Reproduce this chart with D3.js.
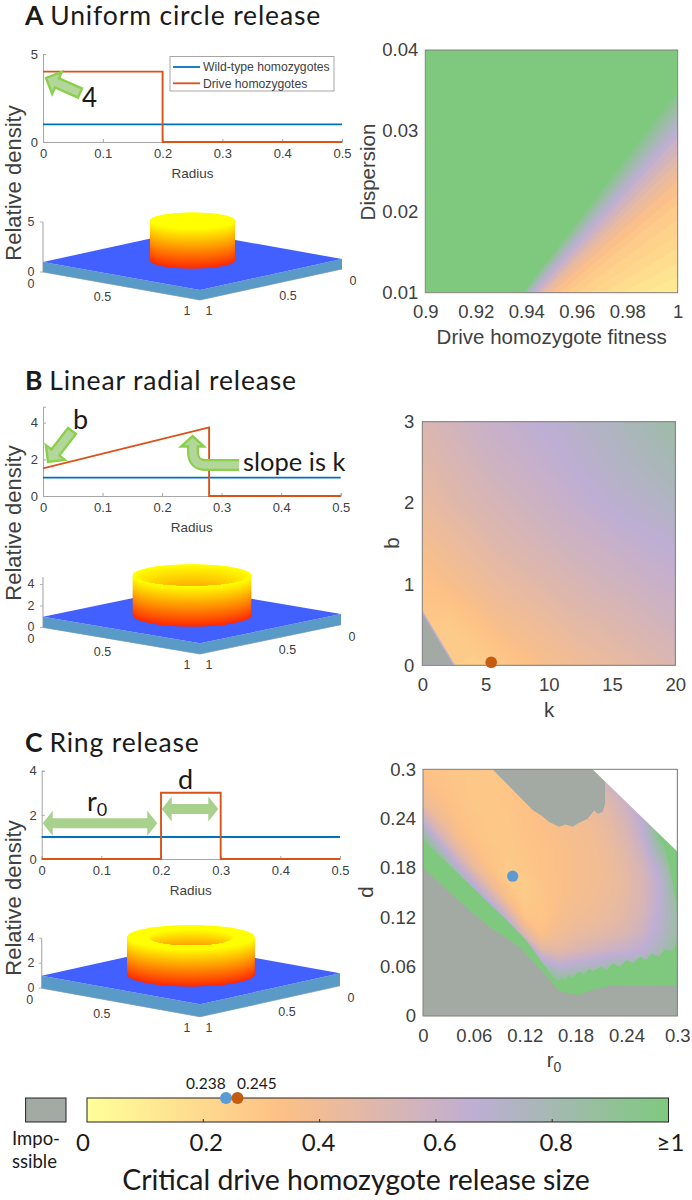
<!DOCTYPE html>
<html><head><meta charset="utf-8">
<script src="https://cdn.jsdelivr.net/npm/d3@7/dist/d3.min.js"></script>
<style>
html,body{margin:0;padding:0;background:#fff}
svg{display:block}
text{font-family:"Liberation Sans",Arial,sans-serif;fill:#404040}
.cal{font-family:Lato,"Open Sans",sans-serif;fill:#1a1a1a}
</style></head><body><svg id="c" width="692" height="1200"></svg>
<script>
// ---------- data ----------
const radiusTicks=[0,0.1,0.2,0.3,0.4,0.5];
const wildRadius=[0,0.5], wildDensity=[1,1];
const driveRadiusA=[0,0.2,0.2,0.5], driveDensityA=[4,4,0,0];
const driveRadiusB=[0,0.279,0.279,0.5], driveDensityB=[1.51,3.74,0,0];
const driveRadiusC=[0,0.2,0.2,0.3,0.3,0.5], driveDensityC=[0,0,3,3,0,0];
const seriesNames=["Wild-type homozygotes","Drive homozygotes"];

const fitnessTicks=[0.9,0.92,0.94,0.96,0.98,1];
const dispersionTicks=[0.01,0.02,0.03,0.04];
const levelsA =[.95,.9,.85,.8,.75,.7,.65,.6,.55,.5,.45,.4,.35,.3,.27,.24,.21,.18,.15,.12,.1];
const bottomFitnessA=[.9388,.939,.9395,.94,.9408,.9415,.9425,.9435,.9445,.9455,.9465,.948,.95,.953,.956,.96,.965,.971,.978,.986,.993];
const rightDispersionA=[.035,.0342,.0333,.0325,.0317,.0308,.03,.0292,.0282,.0272,.0262,.025,.0238,.0222,.021,.019,.0172,.0155,.0137,.012,.0105];

const kTicks=[0,5,10,15,20], bTicks=[0,1,2,3];
const kStep=2, bStep=0.5;
const gridB=[ // b = 0 (first row) ... 3 (last row); k = 0,2,...,20
 [.30,.28,.26,.29,.33,.37,.40,.43,.46,.49,.52],
 [.30,.28,.32,.37,.40,.43,.47,.49,.52,.55,.58],
 [.33,.36,.40,.44,.47,.50,.53,.56,.58,.61,.63],
 [.38,.42,.46,.50,.53,.56,.59,.61,.64,.66,.68],
 [.44,.48,.52,.55,.58,.61,.64,.67,.70,.72,.75],
 [.48,.52,.56,.60,.62,.65,.68,.71,.74,.77,.80],
 [.52,.56,.60,.63,.66,.68,.71,.74,.77,.81,.85]];
const grayK=[0,0,2.53], grayB=[0,.66,0];
const dotB=[5.45,.037];

const rTicks=[0,.06,.12,.18,.24,.3], dTicks=[0,.06,.12,.18,.24,.3];
const rStep=.02, dStep=.02;
const gridC=[ // d = 0 ... 0.30; r0 = 0, .02, ..., .30
 [1,1,1,1,1,1,1,1,1,1,1,1,1,1,1,1],
 [1,1,1,1,1,1,1,1,1,1,1,1,1,1,1,1],
 [1,1,1,1,1,1,1,1,.95,.95,.95,.96,.97,.98,1,1],
 [1,1,1,1,1,1,1,.85,.68,.72,.76,.8,.82,.85,.9,.95],
 [1,1,1,1,1,1,.9,.5,.47,.52,.56,.6,.63,.68,.78,.9],
 [1,1,1,1,1,1,.5,.34,.4,.44,.46,.49,.53,.6,.72,.85],
 [1,1,1,1,1,.6,.32,.31,.37,.4,.42,.45,.49,.56,.7,.85],
 [1,1,1,1,.65,.38,.28,.31,.35,.38,.4,.43,.47,.54,.68,.88],
 [1,1,1,.68,.42,.3,.28,.32,.35,.37,.39,.42,.46,.54,.68,.95],
 [1,1,.72,.45,.33,.28,.3,.33,.35,.37,.39,.42,.47,.56,.72,1],
 [1,.8,.5,.36,.31,.3,.31,.33,.35,.37,.39,.43,.49,.6,.85,1],
 [.88,.55,.38,.32,.3,.3,.32,.34,.36,.38,.4,.45,.52,.66,.95,1],
 [.6,.42,.34,.31,.3,.3,.33,.35,.36,.38,.42,.47,.56,.7,1,1],
 [.42,.36,.32,.3,.3,.31,.33,.35,.37,.4,.44,.5,.6,.72,1,1],
 [.36,.33,.31,.3,.3,.31,.33,.34,.36,.38,.42,.58,.62,.75,1,1],
 [.34,.32,.31,.3,.3,.31,.32,.33,.35,.35,.4,.6,.65,.8,1,1]];
const greenLowR=[0,.027,.066,.098,.1215,.141,.150,.155,.159,.163,.168,.172,.176,.184,.19,.196,.2,.21,.216,.224,.232,.24,.248,.256,.263,.27,.278,.286,.294,.3,.3,0];
const greenLowD=[.214,.188,.149,.117,.0925,.064,.052,.044,.042,.046,.043,.05,.046,.054,.05,.058,.054,.06,.056,.064,.06,.068,.064,.072,.068,.076,.072,.082,.078,.092,0,0];
const greenRightR=[.2729,.2847,.2925,.2984,.3,.3];
const greenRightD=[.2262,.206,.1735,.141,.129,.2];
const grayLowR=[0,.0566,.08,.114,.141,.161,.17,.184,.2,.224,.26,.3,.3,0];
const grayLowD=[.18,.127,.107,.084,.054,.03,.028,.0255,.032,.0377,.0365,.0377,0,0];
const grayTopR=[.0818,.2,.2149,.2149,.2118,.2059,.2019,.1941,.1843,.1764,.1686,.1604,.1490,.1392,.13,.0818];
const grayTopD=[.3,.3,.285,.258,.248,.246,.25,.24,.235,.23,.233,.23,.236,.244,.25,.3];
const whiteR=[.2,.3,.3], whiteD=[.3,.3,.2];
const dotC=[.1058,.17];

const colorStops=[0,1/3,2/3,1], colorHex=['#ffff99','#fdc086','#beaed4','#7fc97f'];
const barTicks=[0,.2,.4,.6,.8,1], barLabels=['0','0.2','0.4','0.6','0.8','≥1'];

// ---------- helpers ----------
const svg=d3.select('#c');
const defs=svg.append('defs');
const heat=d3.scaleLinear(colorStops,colorHex);
const BLUE='#0072bd',RED='#d95319',GRAY='#a3aaa4';
let uid=0;

function title(letter,rest,y){
  const t=svg.append('text').attr('class','cal').attr('x',25).attr('y',y).attr('font-size',26.5).attr('letter-spacing',.85);
  t.append('tspan').attr('font-weight',700).text(letter);
  t.append('tspan').attr('dx',6).text(rest);
}
function linePlot(o){
  const g=svg.append('g');
  const x=d3.scaleLinear([0,.5],o.xr), y=d3.scaleLinear(o.yd,o.yr);
  const ax=g.append('g').attr('transform',`translate(0,${o.yr[0]})`)
    .call(d3.axisBottom(x).tickValues(radiusTicks).tickFormat(d3.format('~g')).tickSize(-3).tickPadding(7));
  const ay=g.append('g').attr('transform',`translate(${o.xr[0]},0)`)
    .call(d3.axisLeft(y).tickValues(o.yt).tickFormat(d3.format('d')).tickSize(-3).tickPadding(5));
  [ax,ay].forEach(a=>{a.selectAll('path,line').attr('stroke','#a6a6a6');
    a.selectAll('text').attr('font-size',13).attr('font-family','"Liberation Sans"').attr('fill','#404040');});
  g.append('text').attr('x',(o.xr[0]+o.xr[1])/2).attr('y',o.yr[0]+36).attr('text-anchor','middle').attr('font-size',13.5).text('Radius');
  const ln=d3.line().x(d=>x(d[0])).y(d=>y(d[1]));
  g.append('path').attr('d',ln(d3.zip(wildRadius,wildDensity))).attr('fill','none').attr('stroke',BLUE).attr('stroke-width',1.9);
  g.append('path').attr('d',ln(d3.zip(o.dr,o.dd))).attr('fill','none').attr('stroke',RED).attr('stroke-width',1.9);
  return {g,x,y};
}
function blockArrow(p,tail,tip,w,hw,hl){
  const dx=tip[0]-tail[0],dy=tip[1]-tail[1],L=Math.hypot(dx,dy),ux=dx/L,uy=dy/L,nx=-uy,ny=ux;
  const bx=tip[0]-ux*hl,by=tip[1]-uy*hl;
  const pts=[[tail[0]+nx*w/2,tail[1]+ny*w/2],[bx+nx*w/2,by+ny*w/2],[bx+nx*hw,by+ny*hw],tip,[bx-nx*hw,by-ny*hw],[bx-nx*w/2,by-ny*w/2],[tail[0]-nx*w/2,tail[1]-ny*w/2]];
  p.append('polygon').attr('points',pts.join(' ')).attr('fill','#b3d69a').attr('stroke','#8ccf4d').attr('stroke-width',2.4).attr('stroke-linejoin','miter');
}
function doubleArrow(p,x0,x1,y,h,hh,hl){
  const pts=[[x0,y],[x0+hl,y-hh],[x0+hl,y-h],[x1-hl,y-h],[x1-hl,y-hh],[x1,y],[x1-hl,y+hh],[x1-hl,y+h],[x0+hl,y+h],[x0+hl,y+hh]];
  p.append('polygon').attr('points',pts.join(' ')).attr('fill','#a9d18e');
}
function note(p,str,x,y,size){return p.append('text').attr('class','cal').attr('x',x).attr('y',y).attr('font-size',size).text(str);}

function surface(o){
  const g=svg.append('g');
  const {L,R,B,zu}=o;
  const sa=d3.scaleLinear([0,1],[L[0]-B[0],0]), sb=d3.scaleLinear([0,1],[R[0]-B[0],0]);
  const ta=d3.scaleLinear([0,1],[L[1]-B[1],0]), tb=d3.scaleLinear([0,1],[R[1]-B[1],0]);
  const zs=d3.scaleLinear([1,2],[0,-zu]);
  const P=(a,b,z)=>[B[0]+sa(a)+sb(b),B[1]+ta(a)+tb(b)+zs(z)];
  // z axis
  g.append('path').attr('d',d3.line()([P(0,1,0),P(0,1,o.zMax)])).attr('stroke','#b0b0b0').attr('stroke-width',1.2).attr('fill','none');
  g.append('path').attr('d',d3.line()([P(0,1,0),P(1,1,0),P(1,0,0)])).attr('stroke','#b0b0b0').attr('fill','none');
  o.zTicks.forEach(z=>{const p=P(0,1,z);
    g.append('path').attr('d',d3.line()([p,[p[0]-3,p[1]]])).attr('stroke','#b0b0b0');
    g.append('text').attr('x',31).attr('y',p[1]+3.5).attr('text-anchor','middle').attr('font-size',12.5).text(z);});
  [[0,1,'0',-12,16],[.5,1,'0.5',-19,15],[1,1,'1',-13,15]].forEach(d=>{const p=P(d[0],d[1],0);
    g.append('text').attr('x',p[0]+d[3]).attr('y',p[1]+d[4]).attr('text-anchor','middle').attr('font-size',12.5).text(d[2]);});
  [[1,0,'0',11,16],[1,.5,'0.5',17,15],[1,1,'1',9,15]].forEach(d=>{const p=P(d[0],d[1],0);
    g.append('text').attr('x',p[0]+d[3]).attr('y',p[1]+d[4]).attr('text-anchor','middle').attr('font-size',12.5).text(d[2]);});
  // base block
  g.append('polygon').attr('points',[P(0,1,0),P(1,1,0),P(1,0,0),P(1,0,1),P(1,1,1),P(0,1,1)].join(' ')).attr('fill','#5a9ac6');
  g.append('polygon').attr('points',[P(0,1,1),P(1,1,1),P(1,0,1),P(0,0,1)].join(' ')).attr('fill','#4160ff');
  // revolved release
  const c=P(.5,.5,1), rxK=212, ryK=o.ryK, rad=o.rad;
  const auto=d3.scaleLinear([1,o.zTop],['#ff2a00','#ffff00']);
  const ell=(p,r,z,col)=>p.append('ellipse').attr('cx',c[0]).attr('cy',c[1]+zs(z)).attr('rx',r*rxK).attr('ry',r*ryK).attr('fill',col);
  d3.range(1,o.zTop,.03).forEach(z=>ell(g,rad,z,auto(z)));
  ell(g,rad,o.zTop,'#ffff00');
  const id='cl'+(uid++);
  const cp=defs.append('clipPath').attr('id',id);
  if(o.type==='cone'){
    cp.append('ellipse').attr('cx',c[0]).attr('cy',c[1]+zs(o.zTop)).attr('rx',rad*rxK-1.5).attr('ry',rad*ryK-1);
    const gi=g.append('g').attr('clip-path',`url(#${id})`);
    const zr=d3.scaleLinear([0,rad],[o.zInner,o.zTop]);
    d3.range(rad,0,-.002).forEach(r=>ell(gi,r,zr(r),auto(zr(r))));
  } else if(o.type==='ring'){
    cp.append('ellipse').attr('cx',c[0]).attr('cy',c[1]+zs(o.zTop)).attr('rx',o.Ri*rxK).attr('ry',o.Ri*ryK);
    const gi=g.append('g').attr('clip-path',`url(#${id})`);
    d3.range(o.zTop,1,-.03).forEach(z=>ell(gi,o.Ri,z,auto(z)));
  }
}

function heatAxes(g,x,y,o){
  const id='hc'+(uid++);
  defs.append('clipPath').attr('id',id).append('rect').attr('x',x.range()[0]).attr('y',y.range()[1])
    .attr('width',x.range()[1]-x.range()[0]).attr('height',y.range()[0]-y.range()[1]);
  const body=g.append('g').attr('clip-path',`url(#${id})`);
  return {body,finish(){
    g.append('rect').attr('x',x.range()[0]).attr('y',y.range()[1]).attr('width',x.range()[1]-x.range()[0]).attr('height',y.range()[0]-y.range()[1])
      .attr('fill','none').attr('stroke','#808080').attr('stroke-width',1);
    const ax=g.append('g').attr('transform',`translate(0,${y.range()[0]})`)
      .call(d3.axisBottom(x).tickValues(o.xt).tickFormat(o.xf).tickSize(0).tickPadding(o.xp));
    const ay=g.append('g').attr('transform',`translate(${x.range()[0]},0)`)
      .call(d3.axisLeft(y).tickValues(o.yt).tickFormat(o.yf).tickSize(0).tickPadding(o.yp));
    [ax,ay].forEach(a=>{a.select('.domain').remove();
      a.selectAll('text').attr('font-size',18.5).attr('font-family','"Liberation Sans"').attr('fill','#404040');});
  }};
}
function field(body,grid,x,y,sx,sy){
  const flat=grid.flat(), n=grid[0].length, m=grid.length;
  const cont=d3.contours().size([n,m]).smooth(true).thresholds(d3.range(.005,1.0001,.01));
  const path=d3.geoPath(d3.geoTransform({point(a,b){this.stream.point(x((a-.5)*sx),y((b-.5)*sy));}}));
  body.append('rect').attr('x',x.range()[0]).attr('y',y.range()[1]).attr('width',x.range()[1]-x.range()[0]).attr('height',y.range()[0]-y.range()[1]).attr('fill',heat(0));
  body.selectAll('path.f').data(cont(flat)).join('path').attr('class','f').attr('d',path).attr('fill',d=>heat(d.value));
}
function poly(body,xs,ys,x,y,col){
  return body.append('polygon').attr('points',xs.map((v,i)=>[x(v),y(ys[i])]).join(' ')).attr('fill',col);
}
function rotLabel(xp,yp,str,size){
  return svg.append('text').attr('transform',`translate(${xp},${yp}) rotate(-90)`).attr('text-anchor','middle').attr('font-size',size).text(str);
}
function label(xp,yp,str,size){return svg.append('text').attr('x',xp).attr('y',yp).attr('text-anchor','middle').attr('font-size',size).text(str);}

// ---------- panel A ----------
title('A','Uniform circle release',25);
const pA=linePlot({xr:[43,342],yd:[0,5],yr:[142,54],yt:[0,5],dr:driveRadiusA,dd:driveDensityA});
const lg=svg.append('g');
lg.append('rect').attr('x',170).attr('y',56.5).attr('width',164).attr('height',34.5).attr('fill','#fff').attr('stroke','#a6a6a6');
seriesNames.forEach((s,i)=>{const yy=67+i*16.3;
  lg.append('line').attr('x1',173).attr('x2',200).attr('y1',yy).attr('y2',yy).attr('stroke',i?RED:BLUE).attr('stroke-width',1.8);
  lg.append('text').attr('x',203).attr('y',yy+4.3).attr('font-size',12.2).text(s);});
blockArrow(svg,[80,93],[46,78],10,12,12);
note(svg,'4',82,107,26);
surface({L:[43,262],R:[342,259],B:[200,290],zu:10,zMax:5,zTicks:[0,5],rad:.2,ryK:40,zTop:5,type:'disc'});
rotLabel(21,183,'Relative density',22);

const xA=d3.scaleLinear([.9,1],[425.3,677.7]), yA=d3.scaleLinear([.01,.04],[292.7,50]);
const gA=svg.append('g');
const hA=heatAxes(gA,xA,yA,{xt:fitnessTicks,xf:d3.format('~g'),xp:12,yt:dispersionTicks,yf:d3.format('.2f'),yp:7});
hA.body.append('rect').attr('x',425.3).attr('y',50).attr('width',252.4).attr('height',242.7).attr('fill',heat(1));
hA.body.selectAll('polygon.b').data(levelsA).join('polygon').attr('class','b')
  .attr('points',(v,i)=>[[xA(bottomFitnessA[i]),yA(.01)],[xA(1),yA(.01)],[xA(1),yA(rightDispersionA[i])]].join(' '))
  .attr('fill',v=>heat(v));
hA.finish();
rotLabel(375,172,'Dispersion',20.5);
label(551.7,344,'Drive homozygote fitness',20.5);

// ---------- panel B ----------
title('B','Linear radial release',390);
const pB=linePlot({xr:[43,340.7],yd:[0,4.87],yr:[496,406.7],yt:[0,2,4],dr:driveRadiusB,dd:driveDensityB});
blockArrow(svg,[72,431],[48,462],10,12,12);
note(svg,'b',73,429,27);
const bent=d3.path();bent.moveTo(239,465);bent.lineTo(206,465);bent.quadraticCurveTo(193,465,193,452);bent.lineTo(193,445);
svg.append('path').attr('d',bent.toString()).attr('fill','none').attr('stroke','#8ccf4d').attr('stroke-width',12);
svg.append('polygon').attr('points','192.5,436 204,446.5 181,446.5').attr('fill','#b3d69a').attr('stroke','#8ccf4d').attr('stroke-width',2.4);
svg.append('path').attr('d',bent.toString()).attr('fill','none').attr('stroke','#b3d69a').attr('stroke-width',7.5);
note(svg,'slope is k',243,471,25.5);
surface({L:[43,616.7],R:[341,614],B:[200,643.3],zu:10.7,zMax:4.7,zTicks:[0,2,4],rad:.279,ryK:40,zTop:4.74,zInner:2.51,type:'cone'});
rotLabel(21,523,'Relative density',22);

const xB=d3.scaleLinear([0,20],[422.3,675.3]), yB=d3.scaleLinear([0,3],[665.3,421.7]);
const gB=svg.append('g');
const hB=heatAxes(gB,xB,yB,{xt:kTicks,xf:d3.format('d'),xp:13,yt:bTicks,yf:d3.format('d'),yp:8});
field(hB.body,gridB,xB,yB,kStep,bStep);
poly(hB.body,grayK,grayB,xB,yB,GRAY).attr('stroke','#beaed4').attr('stroke-width',1.5);
hB.finish();
rotLabel(398.7,543,'b',20.5);
label(549,717,'k',20.5);
svg.append('circle').attr('cx',xB(dotB[0])).attr('cy',yB(dotB[1])).attr('r',5.8).attr('fill','#c55a11');

// ---------- panel C ----------
title('C','Ring release',752);
const pC=linePlot({xr:[41.7,340],yd:[0,4],yr:[859,770.7],yt:[0,2,4],dr:driveRadiusC,dd:driveDensityC});
doubleArrow(svg,42.7,157.3,823.3,5,12.5,10);
doubleArrow(svg,161.7,218.3,809,5,12.5,10);
const r0=note(svg,'r',87,811,27); r0.append('tspan').attr('dy',5).attr('font-size',18).text('0');
note(svg,'d',178,789,27);
surface({L:[41.7,975.7],R:[340,973.3],B:[200,1004.3],zu:12.5,zMax:4,zTicks:[0,2,4],rad:.3,Ri:.2,ryK:40,zTop:4,type:'ring'});
rotLabel(21,898,'Relative density',22);

const xC=d3.scaleLinear([0,.3],[423,677.3]), yC=d3.scaleLinear([0,.3],[1016,769.3]);
const gC=svg.append('g');
const hC=heatAxes(gC,xC,yC,{xt:rTicks,xf:d3.format('~g'),xp:13,yt:dTicks,yf:d3.format('~g'),yp:7});
field(hC.body,gridC,xC,yC,rStep,dStep);
poly(hC.body,greenLowR,greenLowD,xC,yC,heat(1));
poly(hC.body,greenRightR,greenRightD,xC,yC,heat(1));
poly(hC.body,grayLowR,grayLowD,xC,yC,GRAY);
poly(hC.body,grayTopR,grayTopD,xC,yC,GRAY);
poly(hC.body,whiteR,whiteD,xC,yC,'#fff');
hC.finish();
rotLabel(372.7,892,'d',20.5);
const lr=label(554,1067,'r',20.5); lr.append('tspan').attr('dy',5).attr('font-size',14).text('0');
svg.append('circle').attr('cx',xC(dotC[0])).attr('cy',yC(dotC[1])).attr('r',5.6).attr('fill','#5b9bd5');

// ---------- colour bar ----------
const grad=defs.append('linearGradient').attr('id','bar');
colorStops.forEach((s,i)=>grad.append('stop').attr('offset',s).attr('stop-color',colorHex[i]));
const xBar=d3.scaleLinear([0,1],[87,668.5]);
svg.append('rect').attr('x',87).attr('y',1098).attr('width',581.5).attr('height',24).attr('fill','url(#bar)').attr('stroke','#222');
svg.append('rect').attr('x',25.6).attr('y',1098).attr('width',40.4).attr('height',24).attr('fill',GRAY).attr('stroke','#222');
svg.selectAll('line.bt').data(barTicks.slice(1,-1)).join('line').attr('class','bt')
  .attr('x1',d=>xBar(d)).attr('x2',d=>xBar(d)).attr('y1',1122).attr('y2',1119).attr('stroke','#333');
svg.selectAll('text.bl').data(barLabels).join('text').attr('class','bl cal')
  .attr('x',(d,i)=>xBar(barTicks[i])+[-4,3,-1,4,4,2][i]).attr('y',1151).attr('text-anchor','middle').attr('font-size',24).text(d=>d);
note(svg,'Impo-',12,1145,18.5);
note(svg,'ssible',12,1168,18.5);
label(356,1190,'Critical drive homozygote release size',28.4).attr('class','cal');
note(svg,'0.238',186,1089,15.5);
note(svg,'0.245',237,1089,15.5);
svg.append('circle').attr('cx',226).attr('cy',1098).attr('r',6).attr('fill','#5b9bd5');
svg.append('circle').attr('cx',237.5).attr('cy',1098).attr('r',6).attr('fill','#c55a11');
</script></body></html>
